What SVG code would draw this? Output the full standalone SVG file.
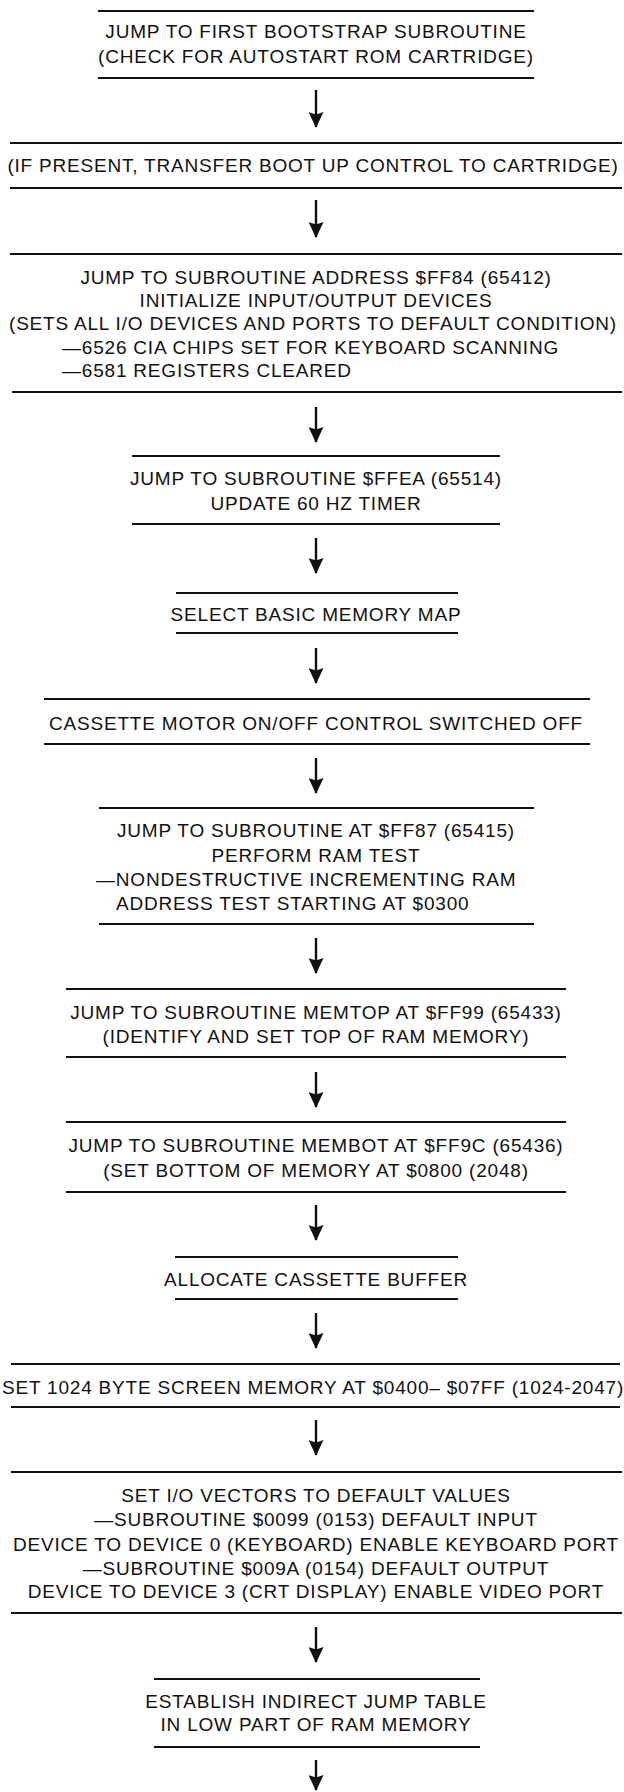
<svg xmlns="http://www.w3.org/2000/svg" width="624" height="1792" viewBox="0 0 624 1792">
<style>
text { font-family: "Liberation Sans", Arial, sans-serif; font-size: 19px; letter-spacing: 0.8px; fill: #111; }
.c { text-anchor: middle; }
.l { text-anchor: start; }
.rule { stroke: #111; stroke-width: 2; }
.conn { stroke: #111; stroke-width: 2.4; fill: none; }
</style>
<defs>
<marker id="ah" viewBox="0 0 16 15" refX="15" refY="7.5" markerWidth="16" markerHeight="15" markerUnits="userSpaceOnUse" orient="auto">
<path d="M0,0 L16,7.5 L0,15 L2.5,7.5 Z" fill="#111"/>
</marker>
</defs>
<rect width="624" height="1792" fill="#fff"/>

<g id="n1">
<line class="rule" x1="98" y1="11" x2="534" y2="11"/>
<text class="c" x="316" y="38">JUMP TO FIRST BOOTSTRAP SUBROUTINE</text>
<text class="c" x="316" y="63">(CHECK FOR AUTOSTART ROM CARTRIDGE)</text>
<line class="rule" x1="98" y1="78" x2="534" y2="78"/>
</g>

<g id="n2">
<line class="rule" x1="10" y1="143" x2="622" y2="143"/>
<text class="c" x="313" y="172">(IF PRESENT, TRANSFER BOOT UP CONTROL TO CARTRIDGE)</text>
<line class="rule" x1="10" y1="188" x2="622" y2="188"/>
</g>

<g id="n3">
<line class="rule" x1="10" y1="254" x2="622" y2="254"/>
<text class="c" x="316" y="284">JUMP TO SUBROUTINE ADDRESS $FF84 (65412)</text>
<text class="c" x="316" y="307">INITIALIZE INPUT/OUTPUT DEVICES</text>
<text class="c" x="313" y="330">(SETS ALL I/O DEVICES AND PORTS TO DEFAULT CONDITION)</text>
<text class="l" x="62" y="354">—6526 CIA CHIPS SET FOR KEYBOARD SCANNING</text>
<text class="l" x="62" y="377">—6581 REGISTERS CLEARED</text>
<line class="rule" x1="12" y1="392" x2="622" y2="392"/>
</g>

<g id="n4">
<line class="rule" x1="132" y1="456" x2="500" y2="456"/>
<text class="c" x="316" y="485">JUMP TO SUBROUTINE $FFEA (65514)</text>
<text class="c" x="316" y="510">UPDATE 60 HZ TIMER</text>
<line class="rule" x1="132" y1="524" x2="500" y2="524"/>
</g>

<g id="n5">
<line class="rule" x1="176" y1="593" x2="458" y2="593"/>
<text class="c" x="316" y="621">SELECT BASIC MEMORY MAP</text>
<line class="rule" x1="176" y1="633" x2="458" y2="633"/>
</g>

<g id="n6">
<line class="rule" x1="44" y1="699" x2="590" y2="699"/>
<text class="c" x="316" y="730">CASSETTE MOTOR ON/OFF CONTROL SWITCHED OFF</text>
<line class="rule" x1="44" y1="744" x2="590" y2="744"/>
</g>

<g id="n7">
<line class="rule" x1="99" y1="808" x2="534" y2="808"/>
<text class="c" x="316" y="837">JUMP TO SUBROUTINE AT $FF87 (65415)</text>
<text class="c" x="316" y="862">PERFORM RAM TEST</text>
<text class="l" x="96" y="886">—NONDESTRUCTIVE INCREMENTING RAM</text>
<text class="l" x="116" y="910">ADDRESS TEST STARTING AT $0300</text>
<line class="rule" x1="99" y1="924" x2="534" y2="924"/>
</g>

<g id="n8">
<line class="rule" x1="66" y1="989" x2="566" y2="989"/>
<text class="c" x="316" y="1019">JUMP TO SUBROUTINE MEMTOP AT $FF99 (65433)</text>
<text class="c" x="316" y="1043">(IDENTIFY AND SET TOP OF RAM MEMORY)</text>
<line class="rule" x1="66" y1="1057" x2="566" y2="1057"/>
</g>

<g id="n9">
<line class="rule" x1="66" y1="1122" x2="566" y2="1122"/>
<text class="c" x="316" y="1152">JUMP TO SUBROUTINE MEMBOT AT $FF9C (65436)</text>
<text class="c" x="316" y="1177">(SET BOTTOM OF MEMORY AT $0800 (2048)</text>
<line class="rule" x1="66" y1="1192" x2="566" y2="1192"/>
</g>

<g id="n10">
<line class="rule" x1="175" y1="1257" x2="458" y2="1257"/>
<text class="c" x="316" y="1286">ALLOCATE CASSETTE BUFFER</text>
<line class="rule" x1="175" y1="1299" x2="458" y2="1299"/>
</g>

<g id="n11">
<line class="rule" x1="11" y1="1364" x2="620" y2="1364"/>
<text class="c" x="313" y="1394">SET 1024 BYTE SCREEN MEMORY AT $0400– $07FF (1024-2047)</text>
<line class="rule" x1="11" y1="1407" x2="620" y2="1407"/>
</g>

<g id="n12">
<line class="rule" x1="11" y1="1472" x2="622" y2="1472"/>
<text class="c" x="316" y="1502">SET I/O VECTORS TO DEFAULT VALUES</text>
<text class="c" x="316" y="1526">—SUBROUTINE $0099 (0153) DEFAULT INPUT</text>
<text class="c" x="316" y="1551">DEVICE TO DEVICE 0 (KEYBOARD) ENABLE KEYBOARD PORT</text>
<text class="c" x="316" y="1575">—SUBROUTINE $009A (0154) DEFAULT OUTPUT</text>
<text class="c" x="316" y="1598">DEVICE TO DEVICE 3 (CRT DISPLAY) ENABLE VIDEO PORT</text>
<line class="rule" x1="11" y1="1613" x2="622" y2="1613"/>
</g>

<g id="n13">
<line class="rule" x1="154" y1="1679" x2="480" y2="1679"/>
<text class="c" x="316" y="1708">ESTABLISH INDIRECT JUMP TABLE</text>
<text class="c" x="316" y="1731">IN LOW PART OF RAM MEMORY</text>
<line class="rule" x1="154" y1="1747" x2="480" y2="1747"/>
</g>

<g id="connectors">
<path class="conn" d="M316,90 V127" marker-end="url(#ah)"/>
<path class="conn" d="M316,200 V237" marker-end="url(#ah)"/>
<path class="conn" d="M316,407 V442" marker-end="url(#ah)"/>
<path class="conn" d="M316,538 V573" marker-end="url(#ah)"/>
<path class="conn" d="M316,648 V683" marker-end="url(#ah)"/>
<path class="conn" d="M316,758 V793" marker-end="url(#ah)"/>
<path class="conn" d="M316,938 V973" marker-end="url(#ah)"/>
<path class="conn" d="M316,1072 V1107" marker-end="url(#ah)"/>
<path class="conn" d="M316,1205 V1240" marker-end="url(#ah)"/>
<path class="conn" d="M316,1313 V1348" marker-end="url(#ah)"/>
<path class="conn" d="M316,1420 V1455" marker-end="url(#ah)"/>
<path class="conn" d="M316,1627 V1662" marker-end="url(#ah)"/>
<path class="conn" d="M316,1760 V1790" marker-end="url(#ah)"/>
</g>
</svg>
